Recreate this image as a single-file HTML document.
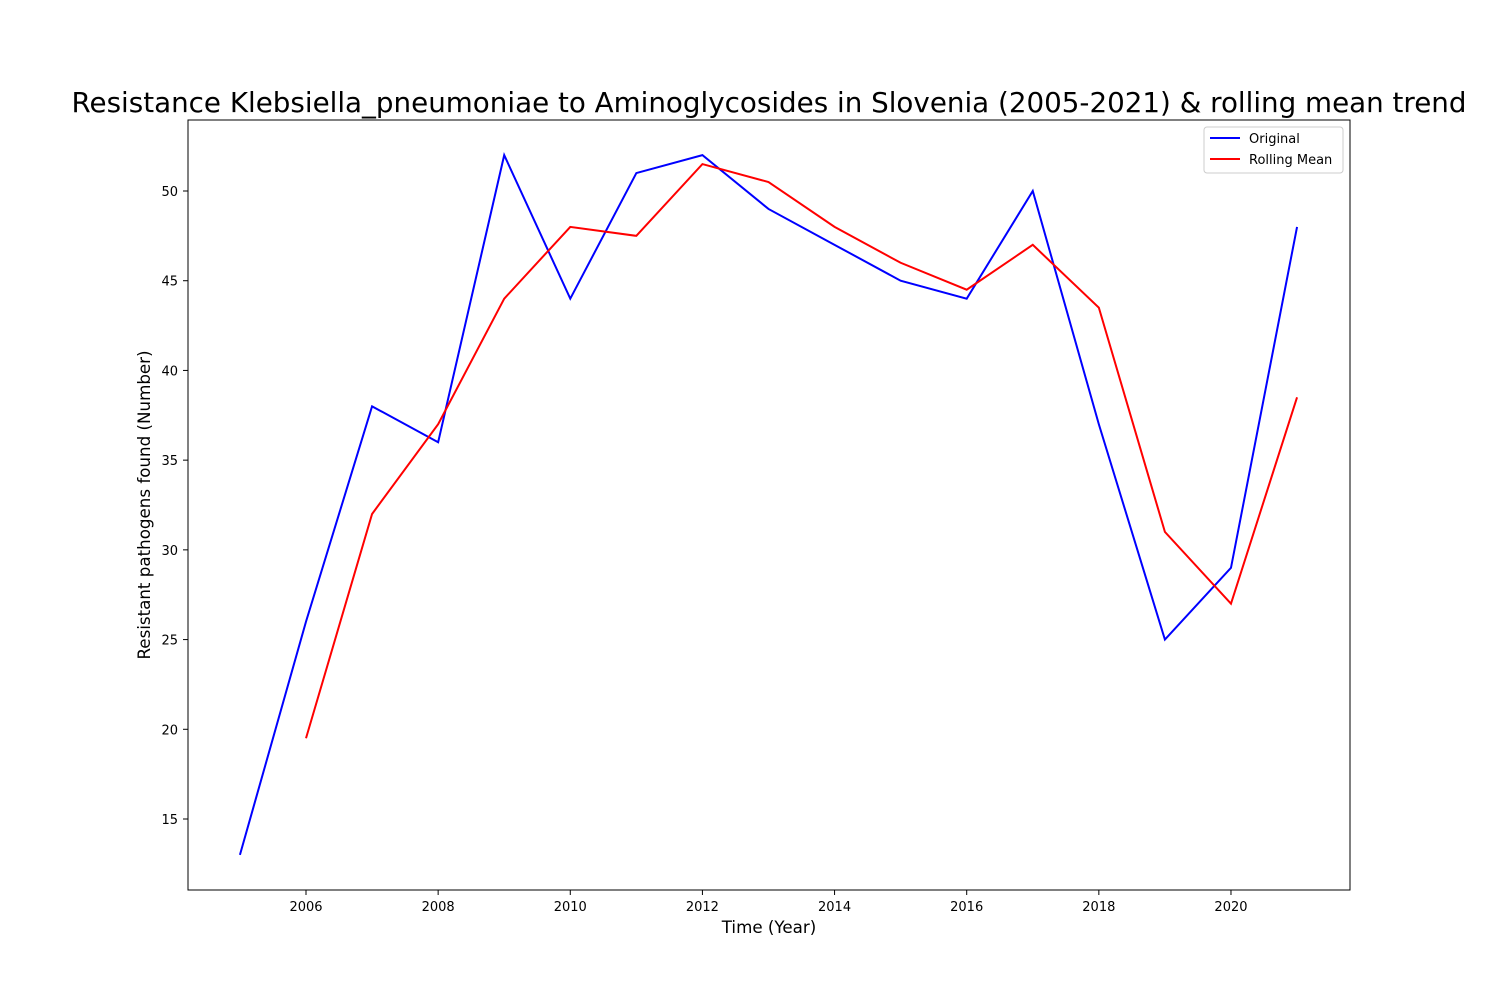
<!DOCTYPE html>
<html><head><meta charset="utf-8"><style>
body{margin:0;background:#fff;}
svg text{font-family:"DejaVu Sans","Liberation Sans",sans-serif;}
</style></head><body>
<svg id="chart" width="1500" height="1000" xmlns="http://www.w3.org/2000/svg">
<rect width="1500" height="1000" fill="#fff"/>
<text x="769" y="112" font-size="27.8" text-anchor="middle" textLength="1395" lengthAdjust="spacingAndGlyphs">Resistance Klebsiella_pneumoniae to Aminoglycosides in Slovenia (2005-2021) &amp; rolling mean trend</text>
<g id="ticks"></g>
<g id="series"></g>
<rect x="188" y="120" width="1162" height="770" fill="none" stroke="#000" stroke-width="1"/>
<text x="769" y="933" font-size="16.7" text-anchor="middle">Time (Year)</text>
<text transform="translate(150,505) rotate(-90)" font-size="16.7" text-anchor="middle">Resistant pathogens found (Number)</text>
<g>
<rect x="1204" y="127" width="139" height="46" rx="3" fill="#fff" stroke="#ccc"/>
<line x1="1210" y1="138" x2="1240" y2="138" stroke="blue" stroke-width="2"/>
<text x="1249" y="143" font-size="13">Original</text>
<line x1="1210" y1="159" x2="1240" y2="159" stroke="red" stroke-width="2"/>
<text x="1249" y="164" font-size="13">Rolling Mean</text>
</g>
</svg>
<script>
const years=[2005,2006,2007,2008,2009,2010,2011,2012,2013,2014,2015,2016,2017,2018,2019,2020,2021];
const original=[13,26,38,36,52,44,51,52,49,47,45,44,50,37,25,29,48];
const rollingYears=[2006,2007,2008,2009,2010,2011,2012,2013,2014,2015,2016,2017,2018,2019,2020,2021];
const rollingMean=[19.5,32,37,44,48,47.5,51.5,50.5,48,46,44.5,47,43.5,31,27,38.5];
const xTicks=[2006,2008,2010,2012,2014,2016,2018,2020];
const yTicks=[15,20,25,30,35,40,45,50];
const X=v=>306+(v-2006)*66.07;
const Y=v=>191+(50-v)*17.943;
const NS="http://www.w3.org/2000/svg";
const tg=document.getElementById('ticks');
function mk(t,a,p){const e=document.createElementNS(NS,t);for(const k in a)e.setAttribute(k,a[k]);p.appendChild(e);return e;}
xTicks.forEach(t=>{
 const l=mk('line',{x1:X(t),x2:X(t),y1:890,y2:895,stroke:'#000'},tg);
 
 
 const s=mk('text',{x:X(t),y:911,'font-size':13,'text-anchor':'middle'},tg);s.textContent=t;
 
 
});
yTicks.forEach(t=>{
 const l=mk('line',{x1:183,x2:188,y1:Y(t),y2:Y(t),stroke:'#000'},tg);
 
 
 const s=mk('text',{x:178,y:Y(t)+5,'font-size':13,'text-anchor':'end'},tg);s.textContent=t;
 
 
});
const sg=document.getElementById('series');
const p1=mk('polyline',{points:years.map((y,i)=>X(y)+','+Y(original[i])).join(' '),fill:'none',stroke:'blue','stroke-width':2},sg);


const p2=mk('polyline',{points:rollingYears.map((y,i)=>X(y)+','+Y(rollingMean[i])).join(' '),fill:'none',stroke:'red','stroke-width':2},sg);


</script>
</body></html>
